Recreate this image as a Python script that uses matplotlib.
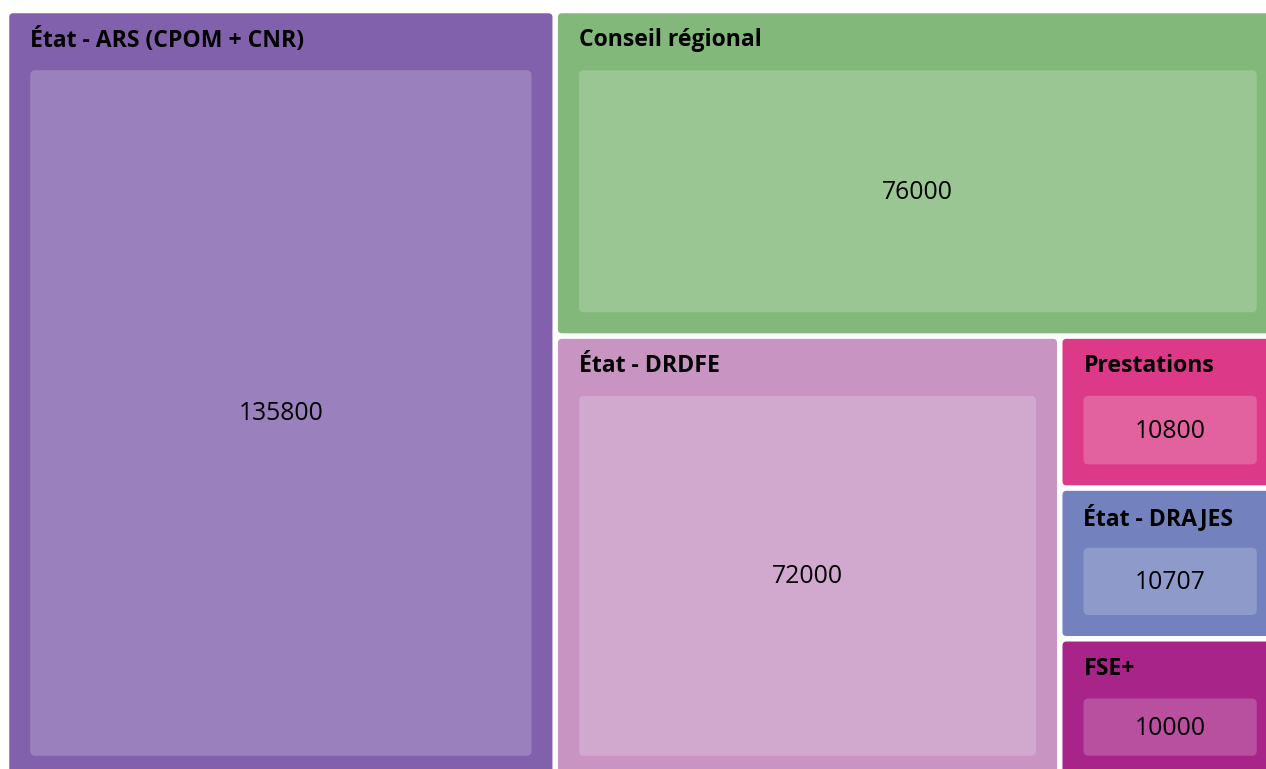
import matplotlib
matplotlib.use("Agg")
import matplotlib.pyplot as plt
from matplotlib.patches import FancyBboxPatch

# data
labels = ["État - ARS (CPOM + CNR)", "Conseil régional", "État - DRDFE",
          "Prestations", "État - DRAJES", "FSE+"]
values = [135800, 76000, 72000, 10800, 10707, 10000]
colors = ["#8261AC", "#82B87A", "#C894C2", "#DC3A88", "#7382BE", "#A82488"]

W, H = 1266, 769
# layout area (the treemap runs a bit past the right and bottom edges)
AREA = (6.5, 10.5, 1280.5, 779.5)
GAP = 2.75
PAD_SIDE = 21
PAD_TOP = 57
PAD_BOTTOM = 21


def binary_layout(vals, x0, y0, x1, y1):
    # same split rule as d3.treemapBinary
    sums = [0]
    for v in vals:
        sums.append(sums[-1] + v)
    out = [None] * len(vals)

    def part(i, j, value, x0, y0, x1, y1):
        if i >= j - 1:
            out[i] = (x0, y0, x1, y1)
            return
        offset = sums[i]
        target = value / 2 + offset
        k, hi = i + 1, j - 1
        while k < hi:
            mid = (k + hi) // 2
            if sums[mid] < target:
                k = mid + 1
            else:
                hi = mid
        if (target - sums[k - 1]) < (sums[k] - target) and i + 1 < k:
            k -= 1
        left = sums[k] - offset
        right = value - left
        if (x1 - x0) > (y1 - y0):
            xk = (x0 * right + x1 * left) / value
            part(i, k, left, x0, y0, xk, y1)
            part(k, j, right, xk, y0, x1, y1)
        else:
            yk = (y0 * right + y1 * left) / value
            part(i, k, left, x0, y0, x1, yk)
            part(k, j, right, x0, yk, x1, y1)

    part(0, len(vals), sums[-1], x0, y0, x1, y1)
    return out


fig = plt.figure(figsize=(W / 100, H / 100), dpi=100)
ax = fig.add_axes([0, 0, 1, 1])
ax.set_xlim(0, W)
ax.set_ylim(H, 0)
ax.axis("off")

cells = binary_layout(values, *AREA)
for lab, val, col, (x0, y0, x1, y1) in zip(labels, values, colors, cells):
    x0, y0, x1, y1 = x0 + GAP, y0 + GAP, x1 - GAP, y1 - GAP
    ax.add_patch(FancyBboxPatch((x0, y0), x1 - x0, y1 - y0,
                                boxstyle="round,pad=0,rounding_size=4",
                                fc=col, ec="none"))
    ix0, iy0 = x0 + PAD_SIDE, y0 + PAD_TOP
    ix1, iy1 = x1 - PAD_SIDE, y1 - PAD_BOTTOM
    ax.add_patch(FancyBboxPatch((ix0, iy0), ix1 - ix0, iy1 - iy0,
                                boxstyle="round,pad=0,rounding_size=5",
                                fc="white", alpha=0.2, ec="none"))
    ax.text(x0 + PAD_SIDE, y0 + 27, lab, ha="left", va="center",
            fontsize=16.6, fontweight="bold", family="Open Sans", color="black")
    ax.text((ix0 + ix1) / 2, (iy0 + iy1) / 2 + 1, str(val),
            ha="center", va="center",
            fontsize=17.8, family="Open Sans", color="black")

fig.savefig("out.png", dpi=100)
